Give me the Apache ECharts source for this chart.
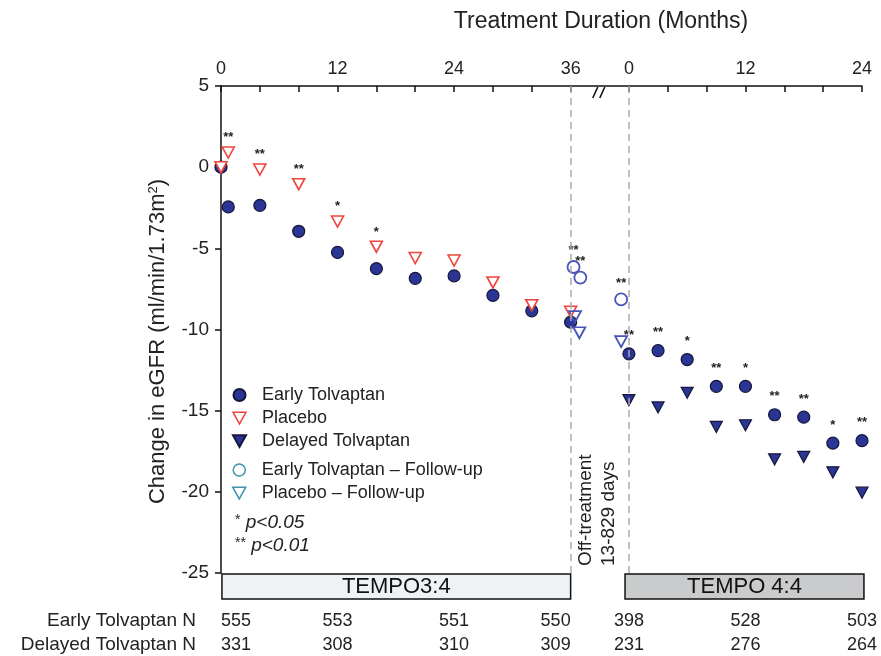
<!DOCTYPE html>
<html><head><meta charset="utf-8">
<script src="https://cdn.jsdelivr.net/npm/echarts@6/dist/echarts.min.js"></script>
<style>html,body{margin:0;padding:0;background:#fff}#c{width:881px;height:656px}</style>
</head><body><div id="c"></div>
<script>
const FONT = '"Liberation Sans", Arial, Helvetica, sans-serif';
const P2 = 42; // plotted position of month 0 of TEMPO 4:4

// ---- TEMPO 3:4 (months on treatment) ----
const p1Months = [0, 0.75, 4, 8, 12, 16, 20, 24, 28, 32, 36];
const earlyP1 = [0, -2.45, -2.35, -3.95, -5.25, -6.25, -6.85, -6.7, -7.9, -8.85, -9.55];
const placeboP1 = [0, 0.9, -0.15, -1.05, -3.35, -4.9, -5.6, -5.75, -7.1, -8.5, -8.9];
const placeboP1Sig = ['', '**', '**', '**', '*', '*', '', '', '', '', ''];

// ---- Off-treatment follow-up (plotted positions) ----
const earlyFUPos = [36.3, 37.0, 41.2];
const earlyFU = [-6.15, -6.8, -8.15];
const earlyFUSig = ['**', '**', '**'];
const placeboFUPos = [36.45, 36.9, 41.2];
const placeboFU = [-9.2, -10.2, -10.75];

// ---- TEMPO 4:4 (months) ----
const p2Months = [0, 3, 6, 9, 12, 15, 18, 21, 24];
const earlyP2 = [-11.5, -11.3, -11.85, -13.5, -13.5, -15.25, -15.4, -17.0, -16.85];
const earlyP2Sig = ['**', '**', '*', '**', '*', '**', '**', '*', '**'];
const delayedP2 = [-14.35, -14.8, -13.9, -16.0, -15.9, -18.0, -17.85, -18.8, -20.05];

// ---- axis ----
const p1Ticks = [0, 4, 8, 12, 16, 20, 24, 28, 32, 36];
const p2Ticks = [0, 4, 8, 12, 16, 20, 24];
const p1Labels = [0, 12, 24, 36];
const p2Labels = [0, 12, 24];

// ---- numbers at risk ----
const nPeriod = [1, 1, 1, 1, 2, 2, 2];
const nMonths = [0, 12, 24, 36, 0, 12, 24];
const earlyN = [555, 553, 551, 550, 398, 528, 503];
const delayedN = [331, 308, 310, 309, 231, 276, 264];

const NAVY = '#2b3595', EDGE = '#15163a', RED = '#f0453d', BLUE = '#4a55b8', TEAL = '#3e92ad';
const TRI = 'path://M0,0L10,0L5,9Z';

const earlyData = p1Months.map((m, i) => [m, earlyP1[i], ''])
  .concat(p2Months.map((m, i) => [P2 + m, earlyP2[i], earlyP2Sig[i]]));
const placeboData = p1Months.map((m, i) => [m, placeboP1[i], placeboP1Sig[i]]);
const delayedData = p2Months.map((m, i) => [P2 + m, delayedP2[i]]);
const earlyFUData = earlyFUPos.map((x, i) => [x, earlyFU[i], earlyFUSig[i]]);
const placeboFUData = placeboFUPos.map((x, i) => [x, placeboFU[i]]);

const tickVals = p1Ticks.concat(p2Ticks.map(t => P2 + t));
const labelVals = p1Labels.concat(p2Labels.map(t => P2 + t));

const sigLabel = (dist) => ({
  show: true, position: 'top', distance: dist,
  formatter: p => p.value[2] || '', color: '#222', fontSize: 13, fontWeight: 'bold', fontFamily: FONT
});

const chart = echarts.init(document.getElementById('c'), null, {renderer: 'canvas'});
chart.setOption({
  animation: false,
  backgroundColor: '#fff',
  textStyle: {fontFamily: FONT},
  grid: {left: 221, right: 19, top: 86, bottom: 83},
  xAxis: {
    type: 'value', position: 'top', min: 0, max: 66,
    splitLine: {show: false},
    axisLine: {onZero: false, lineStyle: {color: '#111', width: 1.5}},
    axisTick: {inside: true, length: 6, customValues: tickVals, lineStyle: {color: '#111', width: 1.5}},
    axisLabel: {customValues: labelVals, formatter: v => String(v >= P2 ? v - P2 : v),
      fontSize: 18, color: '#222', margin: 8, fontFamily: FONT}
  },
  yAxis: {
    type: 'value', min: -25, max: 5, interval: 5,
    name: 'Change in eGFR (ml/min/1.73m{s|2})', nameLocation: 'middle', nameGap: 52,
    nameTextStyle: {fontSize: 22, color: '#222', fontFamily: FONT, padding: [0, 24, 0, 0],
      rich: {s: {fontSize: 13, verticalAlign: 'top', color: '#222', fontFamily: FONT, padding: [0, 0, 9, 0]}}},
    splitLine: {show: false},
    axisLine: {show: true, onZero: false, lineStyle: {color: '#111', width: 1.5}},
    axisTick: {show: true, length: 6, lineStyle: {color: '#111', width: 1.5}},
    axisLabel: {fontSize: 19, color: '#222', margin: 12, fontFamily: FONT}
  },
  legend: [
    {data: ['Early Tolvaptan',
            {name: 'Placebo', itemStyle: {color: '#fff', borderColor: RED, borderWidth: 1.5}},
            'Delayed Tolvaptan'],
     orient: 'vertical', left: 232, top: 386, itemWidth: 13, itemHeight: 12, itemGap: 5, padding: 0,
     selectedMode: false,
     textStyle: {fontSize: 18, lineHeight: 18, color: '#222', fontFamily: FONT, padding: [0, 0, 0, 11]}},
    {data: [{name: 'Early Tolvaptan – Follow-up', itemStyle: {color: '#fff', borderColor: TEAL, borderWidth: 1.5}},
            {name: 'Placebo – Follow-up', itemStyle: {color: '#fff', borderColor: TEAL, borderWidth: 1.5}}],
     orient: 'vertical', left: 232, top: 461, itemWidth: 13, itemHeight: 12, itemGap: 5, padding: 0,
     selectedMode: false,
     textStyle: {fontSize: 18, lineHeight: 18, color: '#222', fontFamily: FONT, padding: [0, 0, 0, 11]}}
  ],
  series: [
    {name: 'Early Tolvaptan', type: 'scatter', data: earlyData, symbol: 'circle', symbolSize: 12, clip: false,
     itemStyle: {color: NAVY, borderColor: EDGE, borderWidth: 1.2, opacity: 1},
     label: sigLabel(5),
     markLine: {silent: true, symbol: 'none', label: {show: false},
       lineStyle: {color: '#aaa', type: [7, 5], width: 1.5},
       data: [{xAxis: 36}, {xAxis: P2}]}},
    {name: 'Placebo', type: 'scatter', data: placeboData, symbol: TRI, symbolSize: [12, 11], clip: false,
     itemStyle: {color: '#fff', borderColor: RED, borderWidth: 1.6, opacity: 1},
     label: sigLabel(2)},
    {name: 'Delayed Tolvaptan', type: 'scatter', data: delayedData, symbol: TRI, symbolSize: [12, 11], clip: false,
     itemStyle: {color: NAVY, borderColor: EDGE, borderWidth: 1.2, opacity: 1}},
    {name: 'Early Tolvaptan – Follow-up', type: 'scatter', data: earlyFUData, symbol: 'circle', symbolSize: 12, clip: false,
     itemStyle: {color: 'rgba(255,255,255,0)', borderColor: BLUE, borderWidth: 1.8, opacity: 1},
     label: sigLabel(3)},
    {name: 'Placebo – Follow-up', type: 'scatter', data: placeboFUData, symbol: TRI, symbolSize: [12, 11], clip: false,
     itemStyle: {color: 'rgba(255,255,255,0)', borderColor: BLUE, borderWidth: 1.8, opacity: 1}}
  ]
});

// ---- layout decorations positioned through the chart's own scales ----
const px = (x, y) => chart.convertToPixel({gridIndex: 0}, [x, y]);
const yBottom = px(0, -25)[1];
const g = [];
g.push({type: 'text', x: 601, y: 22, style: {text: 'Treatment Duration (Months)', fontSize: 23, fill: '#222', fontFamily: FONT, align: 'center', verticalAlign: 'middle'}});

// axis break
const bx = px(39, 5);
g.push({type: 'line', shape: {x1: bx[0] - 7, y1: bx[1] + 12, x2: bx[0] - 2, y2: bx[1] + 1}, style: {stroke: '#111', lineWidth: 1.6}});
g.push({type: 'line', shape: {x1: bx[0] + 0, y1: bx[1] + 12, x2: bx[0] + 5, y2: bx[1] + 1}, style: {stroke: '#111', lineWidth: 1.6}});

// off-treatment note
const ox = px(38.5, -25);
g.push({type: 'text', x: ox[0] + 2, y: yBottom - 7, rotation: Math.PI / 2,
  style: {text: 'Off-treatment\n13-829 days', fontSize: 19, lineHeight: 23, fill: '#222', fontFamily: FONT,
          align: 'left', verticalAlign: 'middle'}});

// study boxes
function box(x0, x1, label, fill) {
  const a = px(x0, -25), b = px(x1, -25);
  g.push({type: 'rect', shape: {x: a[0], y: yBottom + 1, width: b[0] - a[0], height: 25},
    style: {fill: fill, stroke: '#111', lineWidth: 1.5}});
  g.push({type: 'text', x: (a[0] + b[0]) / 2, y: yBottom + 14,
    style: {text: label, fontSize: 22, fill: '#111', fontFamily: FONT, align: 'center', verticalAlign: 'middle'}});
}
box(0.1, 36, 'TEMPO3:4', '#eef2f4');
box(P2 - 0.4, 66.2, 'TEMPO 4:4', '#c9cbcd');

// numbers at risk
const rows = [['Early Tolvaptan N', earlyN, yBottom + 48], ['Delayed Tolvaptan N', delayedN, yBottom + 72]];
rows.forEach(([name, vals, y]) => {
  g.push({type: 'text', x: 196, y: y, style: {text: name, fontSize: 19, fill: '#222', fontFamily: FONT, align: 'right', verticalAlign: 'middle'}});
  vals.forEach((v, i) => {
    const xx = px(nPeriod[i] === 1 ? nMonths[i] : P2 + nMonths[i], 0)[0];
    const align = (nPeriod[i] === 1 && nMonths[i] === 0) ? 'left' : (nPeriod[i] === 1 && nMonths[i] === 36) ? 'right' : 'center';
    g.push({type: 'text', x: xx, y: y, style: {text: String(v), fontSize: 18, fill: '#222', fontFamily: FONT, align: align, verticalAlign: 'middle'}});
  });
});

// significance key
const keyRich = {a: {fontSize: 14, fill: '#222', fontFamily: FONT, padding: [0, 0, 6, 0]},
                 b: {fontSize: 19, fill: '#222', fontStyle: 'italic', fontFamily: FONT}};
g.push({type: 'text', x: 235, y: 523, style: {text: '{a|*}{b| p<0.05}', verticalAlign: 'middle', fontFamily: FONT, rich: keyRich}});
g.push({type: 'text', x: 235, y: 546, style: {text: '{a|**}{b| p<0.01}', verticalAlign: 'middle', fontFamily: FONT, rich: keyRich}});

chart.setOption({graphic: g});
</script></body></html>
